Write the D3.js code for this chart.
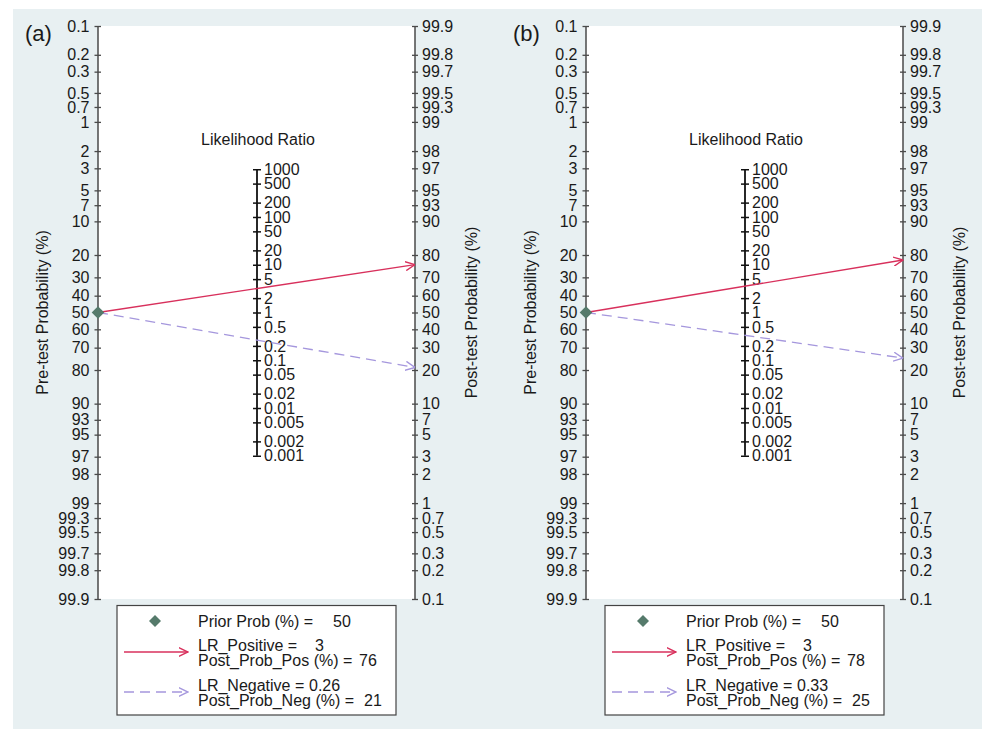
<!DOCTYPE html>
<html>
<head>
<meta charset="utf-8">
<script src="https://cdn.jsdelivr.net/npm/d3@7"></script>
<style>
  html, body { margin: 0; padding: 0; background: #ffffff; }
  svg { display: block; }
  text { font-family: "Liberation Sans", Arial, sans-serif; fill: #1a1a1a; }
</style>
</head>
<body>
<svg id="chart" width="984" height="731"></svg>
<script>
// ---------------- data ----------------
const panelLabels = ["(a)", "(b)"];
const priorProb = [50, 50];
const lrPositive = [3, 3];
const postProbPos = [76, 78];
const lrNegative = ["0.26", "0.33"];
const postProbNeg = [21, 25];

const preTicks = [0.1, 0.2, 0.3, 0.5, 0.7, 1, 2, 3, 5, 7, 10, 20, 30, 40, 50, 60, 70, 80, 90, 93, 95, 97, 98, 99, 99.3, 99.5, 99.7, 99.8, 99.9];
const postTicks = [99.9, 99.8, 99.7, 99.5, 99.3, 99, 98, 97, 95, 93, 90, 80, 70, 60, 50, 40, 30, 20, 10, 7, 5, 3, 2, 1, 0.7, 0.5, 0.3, 0.2, 0.1];
const lrTicks = [1000, 500, 200, 100, 50, 20, 10, 5, 2, 1, 0.5, 0.2, 0.1, 0.05, 0.02, 0.01, 0.005, 0.002, 0.001];

// ---------------- layout ----------------
const svg = d3.select("#chart");
const bg = "#e8f0f2";
const posColor = "#d8305c";
const negColor = "#a597dd";
const priorColor = "#557a6b";

svg.append("rect").attr("x", 13).attr("y", 9).attr("width", 969).attr("height", 720).attr("fill", bg);

const yTop = 26, yBottom = 599;
const xLeft = 98, xRight = 415, xLR = 257;
const panelOffset = 488;

const logit = p => Math.log(p / (1 - p));
const pMin = 0.001, pMax = 0.999;
const yPre = d3.scaleLinear().domain([logit(pMin), logit(pMax)]).range([yTop, yBottom]);
const yPost = d3.scaleLinear().domain([logit(pMax), logit(pMin)]).range([yTop, yBottom]);
const oddsMax = pMax / pMin;
const yLR = d3.scaleLog().domain([1 / (oddsMax * oddsMax), oddsMax * oddsMax]).range([yBottom, yTop]);

const fmt = v => String(v);

// markers
const defs = svg.append("defs");
function marker(id, color) {
  defs.append("marker").attr("id", id)
    .attr("viewBox", "0 0 10 10").attr("refX", 9.5).attr("refY", 5)
    .attr("markerUnits", "userSpaceOnUse").attr("markerWidth", 10).attr("markerHeight", 10)
    .attr("orient", "auto")
    .append("path").attr("d", "M0,0.5 L9.5,5 L0,9.5")
    .attr("fill", "none").attr("stroke", color).attr("stroke-width", 1.4);
}
marker("arrPos", posColor);
marker("arrNeg", negColor);

function styleAxis(g, color, x1, x2, width) {
  g.select(".domain").remove();
  g.selectAll(".tick line").attr("x1", x1).attr("x2", x2).attr("stroke", color).attr("stroke-width", width);
  g.selectAll(".tick text").attr("font-size", 16).attr("fill", "#1a1a1a")
    .attr("font-family", '"Liberation Sans", Arial, sans-serif');
}

function drawPanel(i) {
  const g = svg.append("g").attr("transform", `translate(${i * panelOffset},0)`);

  // white plot region
  g.append("rect").attr("x", xLeft).attr("y", yTop)
    .attr("width", xRight - xLeft).attr("height", yBottom - yTop).attr("fill", "#ffffff");

  // left axis (pre-test)
  g.append("line").attr("x1", xLeft).attr("x2", xLeft).attr("y1", yTop).attr("y2", yBottom)
    .attr("stroke", "#4a4a4a").attr("stroke-width", 1.5);
  const ax1 = g.append("g").attr("transform", `translate(${xLeft},0)`)
    .call(d3.axisLeft(yPre).tickValues(preTicks.map(p => logit(p / 100)))
      .tickFormat((d, j) => fmt(preTicks[j])).tickSize(3.5).tickPadding(5));
  styleAxis(ax1, "#4a4a4a", -3.5, 3, 1.3);

  // right axis (post-test)
  g.append("line").attr("x1", xRight).attr("x2", xRight).attr("y1", yTop).attr("y2", yBottom)
    .attr("stroke", "#4a4a4a").attr("stroke-width", 1.5);
  const ax2 = g.append("g").attr("transform", `translate(${xRight},0)`)
    .call(d3.axisRight(yPost).tickValues(postTicks.map(p => logit(p / 100)))
      .tickFormat((d, j) => fmt(postTicks[j])).tickSize(3).tickPadding(4));
  styleAxis(ax2, "#4a4a4a", -3, 3, 1.3);

  // LR axis
  g.append("line").attr("x1", xLR).attr("x2", xLR)
    .attr("y1", yLR(lrTicks[0])).attr("y2", yLR(lrTicks[lrTicks.length - 1]))
    .attr("stroke", "#111").attr("stroke-width", 1.8);
  const ax3 = g.append("g").attr("transform", `translate(${xLR},0)`)
    .call(d3.axisRight(yLR).tickValues(lrTicks).tickFormat(fmt).tickSize(4).tickPadding(3));
  styleAxis(ax3, "#111", -4, 4, 1.5);

  g.append("text").attr("x", xLR + 1).attr("y", 139).attr("dy", "0.35em")
    .attr("text-anchor", "middle").attr("font-size", 16).text("Likelihood Ratio");

  // axis titles
  g.append("text").attr("transform", `translate(42,${(yTop + yBottom) / 2}) rotate(-90)`)
    .attr("dy", "0.35em").attr("text-anchor", "middle").attr("font-size", 16)
    .text("Pre-test Probability (%)");
  g.append("text").attr("transform", `translate(471,${(yTop + yBottom) / 2}) rotate(-90)`)
    .attr("dy", "0.35em").attr("text-anchor", "middle").attr("font-size", 16)
    .text("Post-test Probability (%)");

  // panel label
  g.append("text").attr("x", 25).attr("y", 33).attr("dy", "0.35em")
    .attr("font-family", "Lato, 'Open Sans', sans-serif").attr("font-size", 22)
    .text(panelLabels[i]);

  // lines
  const y0 = yPre(logit(priorProb[i] / 100));
  g.append("line").attr("x1", xLeft).attr("y1", y0)
    .attr("x2", xRight).attr("y2", yPost(logit(postProbPos[i] / 100)))
    .attr("stroke", posColor).attr("stroke-width", 1.3).attr("marker-end", "url(#arrPos)");
  g.append("line").attr("x1", xLeft).attr("y1", y0)
    .attr("x2", xRight).attr("y2", yPost(logit(postProbNeg[i] / 100)))
    .attr("stroke", negColor).attr("stroke-width", 1.3).attr("stroke-dasharray", "10,6")
    .attr("marker-end", "url(#arrNeg)");

  // prior diamond
  g.append("path").attr("d", d3.symbol(d3.symbolSquare, 80)())
    .attr("transform", `translate(${xLeft},${y0}) rotate(45)`).attr("fill", priorColor);

  // legend
  const lg = g.append("g");
  lg.append("rect").attr("x", 117).attr("y", 605.5).attr("width", 279).attr("height", 109.5)
    .attr("fill", "#fff").attr("stroke", "#444").attr("stroke-width", 1.2);
  lg.append("path").attr("d", d3.symbol(d3.symbolSquare, 72)())
    .attr("transform", `translate(155,621) rotate(45)`).attr("fill", priorColor);
  lg.append("line").attr("x1", 124).attr("x2", 188).attr("y1", 652).attr("y2", 652)
    .attr("stroke", posColor).attr("stroke-width", 1.3).attr("marker-end", "url(#arrPos)");
  lg.append("line").attr("x1", 124).attr("x2", 188).attr("y1", 692).attr("y2", 692)
    .attr("stroke", negColor).attr("stroke-width", 1.3).attr("stroke-dasharray", "10,6")
    .attr("marker-end", "url(#arrNeg)");

  const rows = [
    { label: "Prior Prob (%) =", value: priorProb[i], y: 621, vx: 333 },
    { label: "LR_Positive =", value: lrPositive[i], y: 645.5, vx: 315 },
    { label: "Post_Prob_Pos (%) =", value: postProbPos[i], y: 660.5, vx: 359 },
    { label: "LR_Negative =", value: lrNegative[i], y: 685.5, vx: 309 },
    { label: "Post_Prob_Neg (%) =", value: postProbNeg[i], y: 700.5, vx: 364 }
  ];
  rows.forEach(r => {
    lg.append("text").attr("x", 198).attr("y", r.y).attr("dy", "0.35em").attr("font-size", 16).text(r.label);
    lg.append("text").attr("x", r.vx).attr("y", r.y).attr("dy", "0.35em").attr("font-size", 16).text(r.value);
  });
}

drawPanel(0);
drawPanel(1);
</script>
</body>
</html>
